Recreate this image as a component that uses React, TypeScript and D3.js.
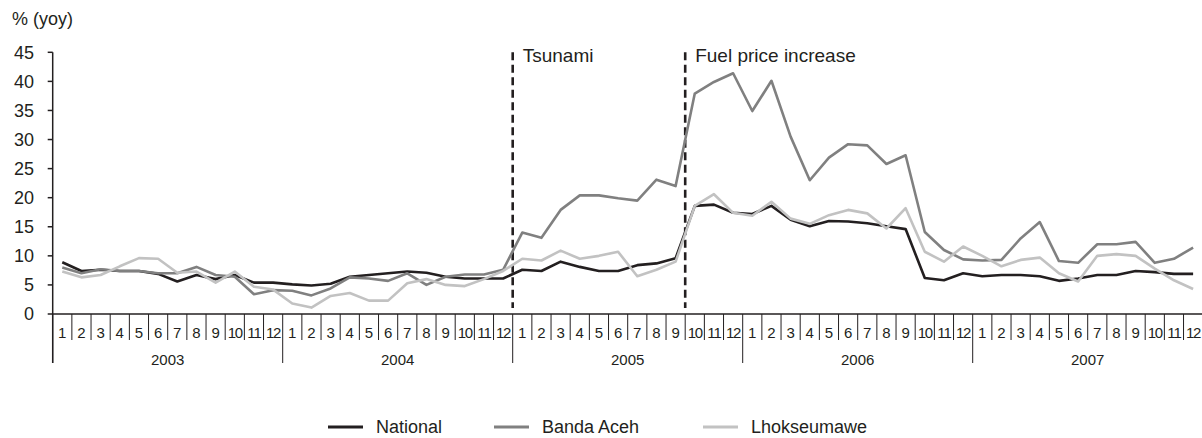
import React from 'react';
import * as d3 from 'd3';

const years = ['2003', '2004', '2005', '2006', '2007'];
const monthLabels = ['1', '2', '3', '4', '5', '6', '7', '8', '9', '10', '11', '12'];
const yTicks = [0, 5, 10, 15, 20, 25, 30, 35, 40, 45];

const national = [
  8.9, 7.4, 7.6, 7.4, 7.4, 6.9, 5.6, 6.7, 6.0, 6.7, 5.4, 5.4,
  5.1, 4.9, 5.2, 6.4, 6.7, 7.0, 7.3, 7.1, 6.4, 6.1, 6.1, 6.1,
  7.6, 7.4, 9.0, 8.1, 7.4, 7.4, 8.4, 8.7, 9.6, 18.6, 18.8, 17.4,
  17.2, 18.6, 16.2, 15.1, 16.0, 15.9, 15.6, 15.1, 14.6, 6.2, 5.8, 7.0,
  6.5, 6.7, 6.7, 6.5, 5.7, 6.1, 6.7, 6.7, 7.4, 7.2, 6.9, 6.9,
];
const bandaAceh = [
  8.0, 7.0, 7.7, 7.4, 7.4, 7.0, 7.0, 8.1, 6.7, 6.4, 3.4, 4.1,
  4.0, 3.2, 4.4, 6.3, 6.1, 5.7, 7.0, 5.0, 6.4, 6.8, 6.8, 7.6,
  14.0, 13.1, 17.9, 20.4, 20.4, 19.9, 19.5, 23.1, 22.0, 37.9, 39.9, 41.4,
  34.9, 40.1, 30.5, 23.0, 26.9, 29.2, 29.0, 25.8, 27.3, 14.1, 11.0, 9.4,
  9.2, 9.3, 13.0, 15.8, 9.1, 8.8, 12.0, 12.0, 12.4, 8.8, 9.5, 11.4,
];
const lhokseumawe = [
  7.3, 6.3, 6.7, 8.2, 9.6, 9.5, 7.1, 7.3, 5.4, 7.3, 4.7, 4.2,
  1.8, 1.1, 3.1, 3.6, 2.3, 2.3, 5.3, 6.0, 5.0, 4.8, 6.0, 7.4,
  9.5, 9.2, 10.9, 9.5, 10.0, 10.7, 6.5, 7.6, 9.0, 18.6, 20.6, 17.4,
  16.9, 19.3, 16.4, 15.5, 17.0, 17.9, 17.3, 14.7, 18.2, 10.7, 9.0, 11.6,
  10.0, 8.2, 9.3, 9.7, 7.0, 5.6, 10.0, 10.3, 10.0, 7.8, 5.8, 4.3,
];

// events: index of the first month after the event line
const events = [
  { label: 'Tsunami', month: 24 },
  { label: 'Fuel price increase', month: 33 },
];

const series = [
  { name: 'National', values: national, color: '#231f20' },
  { name: 'Banda Aceh', values: bandaAceh, color: '#808080' },
  { name: 'Lhokseumawe', values: lhokseumawe, color: '#c2c2c2' },
];

const width = 1202;
const height = 438;
const margin = { top: 52.3, left: 52.7, right: -0.7, bottom: 124 };
const ink = '#231f20';
const font = '"Liberation Sans", Arial, sans-serif';

const App = () => {
  const months = d3.range(years.length * 12);

  const x = d3.scaleBand<number>()
    .domain(months)
    .range([margin.left, width - margin.right])
    .padding(0);

  const y = d3.scaleLinear()
    .domain([0, 45])
    .range([height - margin.bottom, margin.top]);

  const line = d3.line<number>()
    .x((_, i) => x(i)! + x.bandwidth() / 2)
    .y(d => y(d));

  const y0 = y(0);
  const bw = x.bandwidth();

  return (
    <div style={{ position: 'absolute', left: 0, top: 0 }}>
      <svg width={width} height={height} style={{ display: 'block' }} fontFamily={font}>
        <text x={12} y={25} fontSize={18} fill={ink}>% (yoy)</text>

        {/* y axis */}
        <line x1={x.range()[0]} x2={x.range()[0]} y1={y(45)} y2={y0 + 49} stroke={ink} strokeWidth={1.5} />
        {yTicks.map(t => (
          <g key={t}>
            <line x1={x.range()[0] - 5} x2={x.range()[0]} y1={y(t)} y2={y(t)} stroke={ink} strokeWidth={1.5} />
            <text x={34} y={y(t)} dy="0.36em" textAnchor="end" fontSize={18} fill={ink}>{t}</text>
          </g>
        ))}

        {/* x axis */}
        <line x1={x.range()[0]} x2={x.range()[1]} y1={y0} y2={y0} stroke={ink} strokeWidth={1.5} />
        {months.map(m => (
          <g key={m}>
            {m % 12 !== 0 && (
              <line x1={x(m)} x2={x(m)} y1={y0} y2={y0 + 26} stroke={ink} strokeWidth={1} />
            )}
            <text
              x={x(m)! + bw / 2}
              y={y0 + 24}
              textAnchor="middle"
              fontSize={15}
              letterSpacing={m % 12 >= 9 ? -1.2 : 0}
              fill={ink}
            >
              {monthLabels[m % 12]}
            </text>
          </g>
        ))}
        {d3.range(years.length + 1).map(i => {
          const xx = i < years.length ? x(i * 12)! : x.range()[1];
          return <line key={i} x1={xx} x2={xx} y1={y0} y2={y0 + 49} stroke={ink} strokeWidth={1} />;
        })}
        {years.map((yr, i) => (
          <text key={yr} x={x(i * 12)! + bw * 6} y={y0 + 51} textAnchor="middle" fontSize={15} fill={ink}>
            {yr}
          </text>
        ))}

        {/* event markers */}
        {events.map(e => (
          <g key={e.label}>
            <line
              x1={x(e.month)}
              x2={x(e.month)}
              y1={y(45)}
              y2={y0 - 6}
              stroke={ink}
              strokeWidth={2.6}
              strokeDasharray="8,4.5"
            />
            <text x={x(e.month)! + 10} y={62} fontSize={19} fill={ink}>{e.label}</text>
          </g>
        ))}

        {/* series */}
        {series.map(s => (
          <path key={s.name} d={line(s.values)!} fill="none" stroke={s.color} strokeWidth={2.6} strokeLinejoin="round" />
        ))}

        {/* legend */}
        {series.map((s, i) => {
          const lx = [328, 494, 703][i];
          return (
            <g key={s.name} transform={`translate(${lx},427)`}>
              <line x1={0} x2={35} y1={0} y2={0} stroke={s.color} strokeWidth={3} />
              <text x={48} y={0} dy="0.36em" fontSize={18} fill={ink}>{s.name}</text>
            </g>
          );
        })}
      </svg>
    </div>
  );
};

export default App;
